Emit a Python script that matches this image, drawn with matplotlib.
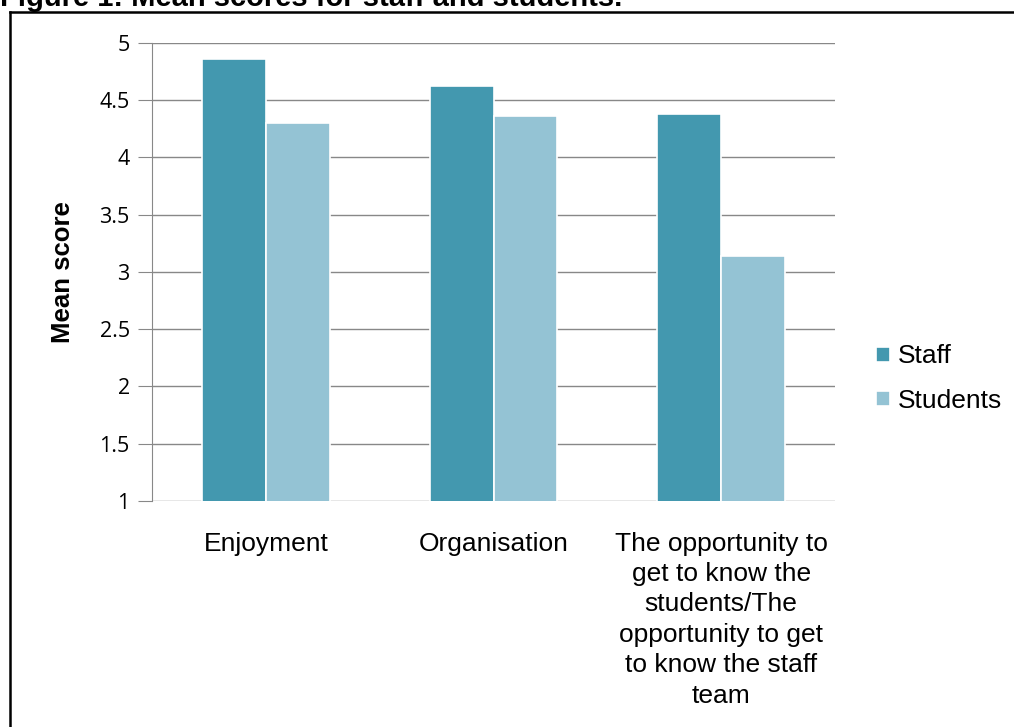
import numpy as np
import matplotlib.pyplot as plt
from matplotlib.lines import Line2D

# data
categories = ['Enjoyment', 'Organisation',
              'The opportunity to\nget to know the\nstudents/The\nopportunity to get\nto know the staff\nteam']
staff = [4.86, 4.62, 4.38]
students = [4.30, 4.36, 3.14]
yticks = [1, 1.5, 2, 2.5, 3, 3.5, 4, 4.5, 5]

col_staff = '#4398AF'
col_students = '#94C3D4'

plt.rcParams['font.family'] = ['Liberation Sans', 'DejaVu Sans']

fig = plt.figure(figsize=(10.14, 7.27), dpi=100)
ax = fig.add_axes([0.1499, 0.3109, 0.8235 - 0.1499, 0.9409 - 0.3109])

x = np.arange(len(categories))
w = 0.28
ax.bar(x - w / 2, staff, w, color=col_staff, edgecolor='white', linewidth=1.2, label='Staff', zorder=3)
ax.bar(x + w / 2, students, w, color=col_students, edgecolor='white', linewidth=1.2, label='Students', zorder=3)

ax.set_xlim(-0.5, 2.5)
ax.set_ylim(1, 5)
ax.set_yticks(yticks)
ax.set_yticklabels(['1', '1.5', '2', '2.5', '3', '3.5', '4', '4.5', '5'], fontsize=15.5,
                   family=['Open Sans', 'DejaVu Sans'])
ax.set_xticks(x)
ax.set_xticklabels(categories, fontsize=19, linespacing=1.34, va='top')
ax.tick_params(axis='x', length=0, pad=22)
ax.tick_params(axis='y', length=10, color='#888888', pad=6)
ax.yaxis.grid(True, color='#888888', linewidth=1.0, zorder=0)
ax.set_axisbelow(True)
for s in ['top', 'right', 'bottom']:
    ax.spines[s].set_visible(False)
ax.spines['left'].set_color('#888888')
ax.set_ylabel('Mean score', fontsize=18.5, fontweight='bold', labelpad=18)

ax.legend(loc='center left', bbox_to_anchor=(1.045, 0.267), frameon=False, fontsize=19,
          handlelength=0.5, handleheight=0.5, handletextpad=0.3, labelspacing=0.78,
          borderaxespad=0)

# page frame (top and left edges only) and cut-off caption
fig.add_artist(Line2D([10 / 1014, 1], [1 - 12 / 727, 1 - 12 / 727], transform=fig.transFigure,
                      color='black', linewidth=1.8))
fig.add_artist(Line2D([10 / 1014, 10 / 1014], [0, 1 - 12 / 727], transform=fig.transFigure,
                      color='black', linewidth=1.8))
fig.text(0.0, 1 - 6 / 727, 'Figure 1: Mean scores for staff and students.', fontsize=21,
         fontweight='bold', va='baseline', ha='left')

fig.savefig('out.png', dpi=100)
